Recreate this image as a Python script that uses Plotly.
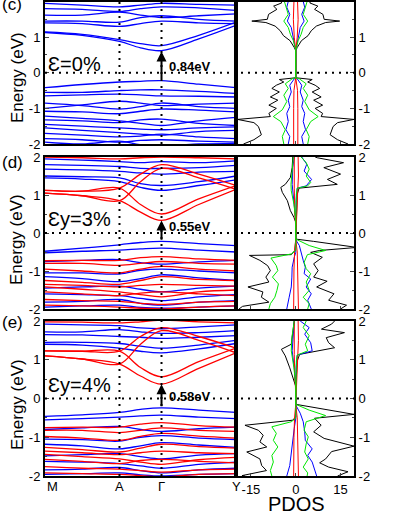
import plotly.graph_objects as go

# ---------------- data ----------------
K_POINTS = [0.0, 0.195, 0.39, 0.5, 0.61, 0.805, 1.0]
K_LABELS = ["M", "A", "Γ", "Y"]
K_LABEL_POS = [0.0, 0.39, 0.61, 1.0]

# panel (c) bands (single spin, blue)
C_BANDS = [
    [1.13, 1.05, 0.88, 0.70, 0.62, 0.95, 1.33],
    [1.15, 1.08, 0.93, 0.82, 0.76, 1.05, 1.42],
    [1.40, 1.38, 1.30, 1.38, 1.45, 1.40, 1.38],
    [1.45, 1.45, 1.42, 1.55, 1.60, 1.50, 1.45],
    [1.62, 1.62, 1.70, 1.62, 1.55, 1.60, 1.65],
    [1.80, 1.78, 1.72, 1.80, 1.85, 1.82, 1.75],
    [1.95, 1.90, 1.85, 1.90, 1.95, 1.92, 1.90],
    [-0.42, -0.33, -0.26, -0.24, -0.22, -0.32, -0.42],
    [-0.55, -0.55, -0.50, -0.48, -0.48, -0.52, -0.58],
    [-0.65, -0.62, -0.60, -0.62, -0.65, -0.66, -0.68],
    [-1.00, -0.90, -0.80, -0.85, -0.92, -0.88, -0.85],
    [-0.85, -0.92, -1.02, -0.95, -0.85, -0.95, -1.00],
    [-1.08, -1.10, -1.15, -1.08, -1.02, -1.05, -1.10],
    [-1.22, -1.28, -1.35, -1.42, -1.48, -1.35, -1.25],
    [-1.32, -1.35, -1.40, -1.32, -1.30, -1.42, -1.48],
    [-1.45, -1.50, -1.55, -1.58, -1.60, -1.55, -1.52],
    [-1.55, -1.62, -1.68, -1.72, -1.75, -1.65, -1.62],
    [-1.70, -1.75, -1.80, -1.78, -1.72, -1.80, -1.85],
    [-1.85, -1.88, -1.95, -1.90, -1.88, -1.92, -1.95],
    [-1.95, -2.00, -1.92, -2.02, -2.05, -2.00, -1.98],
]

# panel (d) bands
D_BANDS_UP = [
    [1.45, 1.42, 1.35, 1.20, 1.12, 1.25, 1.40],
    [1.50, 1.48, 1.45, 1.30, 1.25, 1.35, 1.50],
    [1.68, 1.66, 1.62, 1.58, 1.55, 1.60, 1.62],
    [1.80, 1.78, 1.75, 1.70, 1.70, 1.72, 1.78],
    [1.95, 1.92, 1.88, 1.85, 1.88, 1.85, 1.90],
    [-0.48, -0.40, -0.31, -0.25, -0.22, -0.28, -0.33],
    [-0.52, -0.48, -0.45, -0.42, -0.40, -0.45, -0.50],
    [-0.75, -0.72, -0.70, -0.78, -0.82, -0.76, -0.72],
    [-1.05, -1.05, -1.08, -0.98, -0.95, -1.00, -1.05],
    [-1.15, -1.20, -1.28, -1.20, -1.10, -1.18, -1.25],
    [-1.45, -1.42, -1.40, -1.48, -1.55, -1.45, -1.40],
    [-1.60, -1.62, -1.65, -1.72, -1.78, -1.68, -1.62],
    [-1.82, -1.80, -1.75, -1.85, -1.90, -1.82, -1.78],
    [-1.95, -1.92, -1.90, -1.96, -1.98, -1.95, -1.92],
]
D_BANDS_DN = [
    [1.05, 0.98, 0.85, 0.55, 0.33, 0.75, 1.15],
    [1.12, 1.10, 1.18, 0.75, 0.50, 0.90, 1.25],
    [1.12, 1.10, 1.18, 1.55, 1.80, 1.55, 1.25],
    [1.05, 0.98, 0.85, 1.35, 1.70, 1.45, 1.15],
    [2.00, 1.98, 1.95, 1.98, 2.00, 1.98, 1.95],
    [-0.73, -0.72, -0.72, -0.65, -0.62, -0.68, -0.72],
    [-0.80, -0.80, -0.85, -0.80, -0.75, -0.80, -0.82],
    [-0.95, -1.00, -1.05, -0.95, -0.88, -0.95, -1.00],
    [-1.25, -1.30, -1.35, -1.25, -1.15, -1.22, -1.25],
    [-1.35, -1.38, -1.42, -1.38, -1.35, -1.38, -1.40],
    [-1.42, -1.48, -1.55, -1.62, -1.68, -1.55, -1.50],
    [-1.55, -1.60, -1.65, -1.58, -1.55, -1.60, -1.65],
    [-1.75, -1.78, -1.80, -1.85, -1.88, -1.82, -1.80],
    [-1.90, -1.92, -1.95, -1.98, -2.00, -1.95, -1.92],
]

# panel (e) bands
E_BANDS_UP = [
    [1.40, 1.38, 1.30, 1.22, 1.18, 1.28, 1.42],
    [1.45, 1.45, 1.42, 1.35, 1.30, 1.38, 1.50],
    [1.65, 1.64, 1.60, 1.58, 1.55, 1.58, 1.62],
    [1.72, 1.72, 1.78, 1.72, 1.68, 1.70, 1.75],
    [1.92, 1.90, 1.88, 1.82, 1.80, 1.85, 1.90],
    [-0.46, -0.42, -0.36, -0.28, -0.24, -0.30, -0.36],
    [-0.55, -0.52, -0.48, -0.45, -0.43, -0.48, -0.52],
    [-0.80, -0.76, -0.72, -0.80, -0.85, -0.78, -0.74],
    [-1.05, -1.06, -1.10, -1.00, -0.96, -1.02, -1.06],
    [-1.18, -1.22, -1.30, -1.22, -1.14, -1.20, -1.26],
    [-1.48, -1.45, -1.42, -1.50, -1.56, -1.46, -1.42],
    [-1.62, -1.64, -1.68, -1.74, -1.80, -1.70, -1.64],
    [-1.84, -1.82, -1.78, -1.86, -1.92, -1.84, -1.80],
    [-1.96, -1.94, -1.92, -1.97, -2.00, -1.96, -1.94],
]
E_BANDS_DN = [
    [1.10, 1.02, 0.89, 0.58, 0.37, 0.78, 1.18],
    [1.23, 1.22, 1.22, 0.80, 0.56, 0.95, 1.30],
    [1.23, 1.22, 1.22, 1.60, 1.83, 1.60, 1.30],
    [1.10, 1.02, 0.89, 1.40, 1.75, 1.50, 1.18],
    [1.98, 1.97, 1.95, 1.98, 2.02, 1.98, 1.95],
    [-0.75, -0.74, -0.74, -0.66, -0.62, -0.70, -0.74],
    [-0.82, -0.82, -0.88, -0.82, -0.76, -0.82, -0.85],
    [-0.98, -1.02, -1.08, -0.98, -0.90, -0.97, -1.02],
    [-1.26, -1.32, -1.38, -1.28, -1.18, -1.24, -1.28],
    [-1.36, -1.40, -1.45, -1.40, -1.36, -1.40, -1.42],
    [-1.44, -1.50, -1.56, -1.64, -1.70, -1.58, -1.52],
    [-1.57, -1.62, -1.68, -1.60, -1.57, -1.62, -1.66],
    [-1.76, -1.80, -1.82, -1.86, -1.90, -1.84, -1.82],
    [-1.92, -1.94, -1.96, -1.99, -2.02, -1.96, -1.94],
]

# PDOS panel (c) (spin-symmetric)
C_BLACK_E = [2.0, 1.96, 1.87, 1.78, 1.64, 1.50, 1.45, 1.41, 1.31, 1.18, 1.04, 0.90, 0.71, 0.62,
             -0.14, -0.19, -0.26, -0.35, -0.44, -0.54, -0.68, -0.77, -0.91, -1.0, -1.14, -1.23,
             -1.31, -1.40, -1.51, -1.65, -1.74, -1.88, -2.0]
C_BLACK_V = [5.0, 4.7, 7.4, 6.3, 9.1, 9.5, 14.7, 10.0, 6.9, 5.2, 4.1, 1.9, 0.5, 0.0,
             0.0, 5.5, 4.0, 6.5, 8.0, 5.5, 8.5, 6.0, 9.0, 6.5, 9.0, 8.5,
             19.5, 14.0, 12.5, 12.0, 11.5, 14.0, 17.5]
C_GREEN_E = [2.0, 1.84, 1.64, 1.45, 1.27, 1.08, 0.90, 0.62, -0.14, -0.17, -0.31, -0.44, -0.63,
             -0.81, -1.04, -1.23, -1.37, -1.60, -1.79, -2.0]
C_GREEN_V = [3.8, 3.3, 2.5, 4.0, 2.5, 1.8, 0.8, 0.0, 0.0, 1.2, 3.5, 2.5, 4.0,
             3.0, 4.5, 7.5, 5.0, 3.5, 4.5, 4.0]
C_BLUE_E = [2.0, 1.84, 1.64, 1.45, 1.27, 1.08, 0.80, 0.62, -0.14, -0.17, -0.35, -0.54, -0.77,
            -0.95, -1.14, -1.37, -1.60, -1.79, -2.0]
C_BLUE_V = [2.5, 3.0, 2.0, 2.8, 1.5, 1.0, 0.5, 0.0, 0.0, 0.5, 2.0, 1.5, 2.5,
            2.0, 3.0, 2.5, 3.3, 2.0, 2.5]
C_RED_E = [2.0, 1.5, 1.0, 0.62, -0.14, -0.5, -1.0, -1.5, -2.0]
C_RED_V = [0.6, 0.8, 0.5, 0.0, 0.0, 0.6, 0.7, 0.8, 0.7]

# PDOS panel (d)
D_BLACK_UP_E = [2.0, 1.98, 1.85, 1.72, 1.55, 1.41, 1.28, 1.18, 1.02, 0.41, 0.32, -0.16, -0.22,
                -0.38, -0.46, -0.51, -0.64, -0.81, -0.99, -1.16, -1.27, -1.42, -1.60, -1.77,
                -1.90, -2.0]
D_BLACK_UP_V = [6.5, 7.2, 16.0, 9.4, 15.0, 10.6, 13.9, 1.1, 0.5, 0.2, 0.0, 0.0, 6.0,
                20.5, 8.0, 5.0, 8.9, 6.0, 7.5, 6.0, 10.5, 7.0, 12.8, 11.0, 17.0, 15.0]
D_BLACK_DN_E = [2.0, 1.72, 1.46, 1.28, 1.20, 1.07, 0.85, 0.59, 0.41, 0.28, -0.16, -0.46, -0.57,
                -0.59, -0.72, -0.86, -0.99, -1.16, -1.29, -1.42, -1.55, -1.69, -1.82, -1.93, -2.0]
D_BLACK_DN_V = [-1.0, -1.2, -1.8, -3.5, -5.0, -4.5, -2.8, -1.8, -0.6, 0.0, 0.0, -0.3, -1.5,
                -15.5, -12.0, -9.4, -8.5, -10.0, -9.0, -16.0, -11.0, -11.5, -9.0, -17.8, -19.0]
D_GREEN_UP_E = [2.0, 1.98, 1.85, 1.68, 1.50, 1.33, 1.24, 1.18, 1.02, 0.32, -0.16, -0.33, -0.46,
                -0.57, -0.77, -0.94, -1.07, -1.29, -1.51, -1.69, -1.86, -2.0]
D_GREEN_UP_V = [1.8, 2.0, 3.5, 4.5, 3.5, 5.0, 4.0, 0.5, 0.2, 0.0, 0.0, 4.5, 10.0,
                3.9, 2.8, 3.5, 5.0, 3.5, 4.5, 2.5, 4.5, 4.0]
D_GREEN_DN_E = [2.0, 1.63, 1.28, 1.11, 0.76, 0.32, -0.16, -0.46, -0.55, -0.66, -0.86, -0.99,
                -1.16, -1.34, -1.51, -1.69, -1.86, -2.0]
D_GREEN_DN_V = [-0.8, -1.2, -1.6, -1.5, -0.6, 0.0, 0.0, 0.0, -1.5, -8.3, -6.5, -6.0,
                -7.8, -5.8, -6.3, -7.0, -8.5, -9.0]
D_BLUE_UP_E = [2.0, 1.98, 1.81, 1.63, 1.41, 1.24, 1.18, 0.85, 0.32, -0.18, -0.33, -0.55, -0.72,
               -0.90, -1.07, -1.21, -1.42, -1.60, -1.77, -2.0]
D_BLUE_UP_V = [2.0, 2.2, 3.7, 2.8, 5.3, 3.5, 0.5, 0.1, 0.0, 0.0, 1.2, 1.8, 2.5,
               3.2, 2.8, 5.0, 3.5, 5.2, 4.0, 5.2]
D_BLUE_DN_E = [2.0, 1.72, 1.28, 0.85, 0.32, -0.16, -0.51, -0.64, -0.90, -1.16, -1.42, -1.69, -2.0]
D_BLUE_DN_V = [-0.5, -1.0, -1.2, -0.6, 0.0, 0.0, 0.0, -0.5, -1.2, -1.3, -1.5, -2.2, -3.0]
D_RED_E = [2.0, 1.5, 1.18, 0.5, 0.3, -0.16, -0.5, -1.0, -1.5, -2.0]
D_RED_UP_V = [0.8, 0.9, 0.7, 0.4, 0.1, 0.0, 0.5, 0.7, 0.8, 0.9]
D_RED_DN_V = [-0.5, -0.6, -0.5, -0.3, -0.1, 0.0, -0.4, -0.6, -0.6, -0.7]

# PDOS panel (e)
E_BLACK_UP_E = [2.0, 1.92, 1.79, 1.70, 1.57, 1.44, 1.31, 1.14, 0.97, 0.36, 0.27, -0.15, -0.25,
                -0.41, -0.51, -0.69, -0.86, -1.03, -1.23, -1.37, -1.56, -1.66, -1.77, -1.89, -2.0]
E_BLACK_UP_V = [13.0, 12.0, 8.6, 16.3, 10.2, 11.0, 13.0, 1.3, 0.5, 0.1, 0.0, 0.0, 7.5,
                19.5, 6.3, 8.5, 6.0, 9.5, 19.5, 12.0, 10.0, 8.0, 11.0, 17.5, 14.0]
E_BLACK_DN_E = [2.0, 1.66, 1.40, 1.27, 1.10, 0.79, 0.53, 0.31, -0.15, -0.47, -0.56, -0.69,
                -0.82, -0.95, -1.12, -1.25, -1.38, -1.56, -1.73, -1.86, -1.99, -2.0]
E_BLACK_DN_V = [-0.5, -1.2, -1.5, -4.8, -3.5, -2.0, -1.0, 0.0, 0.0, 0.0, -1.0, -17.0,
                -12.5, -10.9, -12.0, -9.7, -16.4, -12.0, -11.4, -9.8, -18.0, -17.0]
E_GREEN_UP_E = [2.0, 1.83, 1.62, 1.40, 1.23, 1.12, 0.97, 0.27, -0.15, -0.30, -0.44, -0.60,
                -0.82, -0.99, -1.17, -1.38, -1.56, -1.77, -1.92, -2.0]
E_GREEN_UP_V = [3.5, 2.5, 4.5, 3.2, 4.0, 0.5, 0.2, 0.0, 0.0, 4.5, 10.0, 3.5,
                2.8, 4.2, 3.5, 3.0, 4.2, 2.5, 4.0, 3.8]
E_GREEN_DN_E = [2.0, 1.57, 1.23, 0.79, 0.31, -0.15, -0.51, -0.60, -0.73, -0.90, -1.08, -1.25,
                -1.47, -1.64, -1.86, -2.0]
E_GREEN_DN_V = [-0.5, -1.3, -1.5, -0.6, 0.0, 0.0, 0.0, -1.5, -8.0, -6.5, -7.5, -6.0,
                -8.0, -7.5, -8.5, -8.0]
E_BLUE_UP_E = [2.0, 1.83, 1.66, 1.44, 1.23, 1.12, 0.79, 0.27, -0.17, -0.38, -0.60, -0.86,
               -1.08, -1.30, -1.47, -1.64, -1.86, -2.0]
E_BLUE_UP_V = [1.5, 4.5, 3.0, 5.0, 5.5, 0.5, 0.1, 0.0, 0.0, 1.5, 2.5, 3.0,
               3.2, 5.5, 4.0, 5.5, 6.5, 7.0]
E_BLUE_DN_E = [2.0, 1.57, 1.23, 0.79, 0.31, -0.15, -0.51, -0.77, -1.12, -1.47, -1.73, -2.0]
E_BLUE_DN_V = [-0.5, -1.0, -1.2, -0.5, 0.0, 0.0, 0.0, -0.5, -1.0, -1.5, -2.0, -3.0]
E_RED_E = [2.0, 1.5, 1.14, 0.5, 0.3, -0.15, -0.5, -1.0, -1.5, -2.0]
E_RED_UP_V = [0.8, 0.9, 0.7, 0.4, 0.1, 0.0, 0.5, 0.7, 0.8, 0.9]
E_RED_DN_V = [-0.5, -0.6, -0.5, -0.3, -0.1, 0.0, -0.4, -0.6, -0.6, -0.7]

PANEL_TAGS = ["(c)", "(d)", "(e)"]
STRAIN_LABELS = ["Ɛ=0%", "Ɛy=3%", "Ɛy=4%"]
GAP_LABELS = ["0.84eV", "0.55eV", "0.58eV"]
GAP_VBM = [-0.22, -0.22, -0.24]
GAP_CBM = [0.60, 0.33, 0.37]

# ---------------- figure ----------------
W, H = 399, 516
BLUE, RED, GREEN, BLACK = "#0000ff", "#ff0000", "#00e600", "#000000"
FONT = "Liberation Sans, Arial, sans-serif"

XB = [45 / W, 236 / W]
XP = [236 / W, 354 / W]
ROWS_PX = [(1.5, 144), (157, 309), (321, 476)]
YDOM = [[1 - b / H, 1 - t / H] for t, b in ROWS_PX]

fig = go.Figure()


def band_traces(bands, color, xa, ya):
    for b in bands:
        fig.add_trace(go.Scatter(x=K_POINTS, y=b, mode="lines", xaxis=xa, yaxis=ya,
                                 line=dict(color=color, width=1.3, shape="spline", smoothing=1.0),
                                 showlegend=False, hoverinfo="skip"))


def pdos_trace(vals, ens, color, xa, ya, width=1.0):
    fig.add_trace(go.Scatter(x=vals, y=ens, mode="lines", xaxis=xa, yaxis=ya,
                             line=dict(color=color, width=width),
                             showlegend=False, hoverinfo="skip"))


# panel c
band_traces(C_BANDS, BLUE, "x", "y")
pdos_trace(C_BLACK_V, C_BLACK_E, BLACK, "x2", "y2")
pdos_trace([-v for v in C_BLACK_V], C_BLACK_E, BLACK, "x2", "y2")
pdos_trace(C_BLUE_V, C_BLUE_E, BLUE, "x2", "y2")
pdos_trace([-v for v in C_BLUE_V], C_BLUE_E, BLUE, "x2", "y2")
pdos_trace(C_RED_V, C_RED_E, RED, "x2", "y2")
pdos_trace([-v for v in C_RED_V], C_RED_E, RED, "x2", "y2")
pdos_trace(C_GREEN_V, C_GREEN_E, GREEN, "x2", "y2")
pdos_trace([-v for v in C_GREEN_V], C_GREEN_E, GREEN, "x2", "y2")

# panel d
band_traces(D_BANDS_UP, BLUE, "x3", "y3")
band_traces(D_BANDS_DN, RED, "x3", "y3")
pdos_trace(D_BLACK_UP_V, D_BLACK_UP_E, BLACK, "x4", "y4")
pdos_trace(D_BLACK_DN_V, D_BLACK_DN_E, BLACK, "x4", "y4")
pdos_trace(D_BLUE_UP_V, D_BLUE_UP_E, BLUE, "x4", "y4")
pdos_trace(D_BLUE_DN_V, D_BLUE_DN_E, BLUE, "x4", "y4")
pdos_trace(D_RED_UP_V, D_RED_E, RED, "x4", "y4")
pdos_trace(D_RED_DN_V, D_RED_E, RED, "x4", "y4")
pdos_trace(D_GREEN_UP_V, D_GREEN_UP_E, GREEN, "x4", "y4")
pdos_trace(D_GREEN_DN_V, D_GREEN_DN_E, GREEN, "x4", "y4")

# panel e
band_traces(E_BANDS_UP, BLUE, "x5", "y5")
band_traces(E_BANDS_DN, RED, "x5", "y5")
pdos_trace(E_BLACK_UP_V, E_BLACK_UP_E, BLACK, "x6", "y6")
pdos_trace(E_BLACK_DN_V, E_BLACK_DN_E, BLACK, "x6", "y6")
pdos_trace(E_BLUE_UP_V, E_BLUE_UP_E, BLUE, "x6", "y6")
pdos_trace(E_BLUE_DN_V, E_BLUE_DN_E, BLUE, "x6", "y6")
pdos_trace(E_RED_UP_V, E_RED_E, RED, "x6", "y6")
pdos_trace(E_RED_DN_V, E_RED_E, RED, "x6", "y6")
pdos_trace(E_GREEN_UP_V, E_GREEN_UP_E, GREEN, "x6", "y6")
pdos_trace(E_GREEN_DN_V, E_GREEN_DN_E, GREEN, "x6", "y6")

axis_common = dict(showline=True, linecolor=BLACK, linewidth=2, mirror=True,
                   showgrid=False, zeroline=False, automargin=False)
tickfont = dict(family=FONT, size=13, color=BLACK)

layout = dict(width=W, height=H, margin=dict(l=0, r=0, t=0, b=0, pad=0, autoexpand=False),
              paper_bgcolor="white", plot_bgcolor="white", showlegend=False)

shapes, annotations = [], []
for i in range(3):
    bx = "x" if i == 0 else f"x{2 * i + 1}"
    by = "y" if i == 0 else f"y{2 * i + 1}"
    px_ = f"x{2 * i + 2}"
    py_ = f"y{2 * i + 2}"
    bxk = "xaxis" if i == 0 else f"xaxis{2 * i + 1}"
    byk = "yaxis" if i == 0 else f"yaxis{2 * i + 1}"
    pxk = f"xaxis{2 * i + 2}"
    pyk = f"yaxis{2 * i + 2}"
    last = i == 2
    layout[bxk] = dict(domain=XB, anchor=by, range=[0, 1], showticklabels=False,
                       ticks="", **axis_common)
    layout[byk] = dict(domain=YDOM[i], anchor=bx, range=[-2, 2], tickvals=[-2, -1, 0, 1, 2],
                       ticktext=["-2", "-1", "0", "1", "2"],
                       ticks="inside", ticklen=4, tickwidth=1, tickfont=tickfont,
                       minor=dict(ticks="inside", ticklen=2, dtick=0.5, tickwidth=1),
                       **axis_common)
    layout[pxk] = dict(domain=XP, anchor=py_, range=[-20, 19.5],
                       tickvals=[-15, 0, 15], ticktext=["-15", "0", "15"],
                       showticklabels=last, ticks="inside", ticklen=3, tickfont=tickfont,
                       **axis_common)
    layout[pyk] = dict(domain=YDOM[i], anchor=px_, range=[-2, 2], side="right",
                       tickvals=[-2, -1, 0, 1, 2], ticktext=["-2", "-1", "0", "1", "2"],
                       ticks="inside", ticklen=4, tickfont=tickfont,
                       minor=dict(ticks="inside", ticklen=2, dtick=0.5, tickwidth=1),
                       **axis_common)

    # dotted guide lines
    for kx in (K_LABEL_POS[1], K_LABEL_POS[2]):
        shapes.append(dict(type="line", xref=bx, yref=f"{by} domain", x0=kx, x1=kx, y0=0, y1=1,
                           line=dict(color=BLACK, width=2, dash="2px,5px"), layer="above"))
    shapes.append(dict(type="line", xref="paper", yref=by, x0=XB[0], x1=XP[1], y0=0, y1=0,
                       line=dict(color=BLACK, width=2, dash="2px,5px"), layer="above"))

    # arrow across gap at Gamma
    annotations.append(dict(x=K_LABEL_POS[2], y=GAP_CBM[i], ax=K_LABEL_POS[2], ay=GAP_VBM[i],
                            xref=bx, yref=by, axref=bx, ayref=by, text="", showarrow=True,
                            arrowhead=2, arrowsize=1.0, arrowwidth=2, arrowcolor=BLACK))
    gap_y = [66, 226, 396][i]
    annotations.append(dict(x=167 / W, y=1 - gap_y / H, xref="paper", yref="paper",
                            text=f"<b>{GAP_LABELS[i]}</b>", showarrow=False,
                            xanchor="left", yanchor="middle",
                            font=dict(family=FONT, size=13, color=BLACK)))
    strain_y = [64, 219, 385][i]
    annotations.append(dict(x=46 / W, y=1 - strain_y / H, xref="paper", yref="paper",
                            text=STRAIN_LABELS[i], showarrow=False, xanchor="left",
                            yanchor="middle", font=dict(family=FONT, size=20, color=BLACK)))
    tag_y = [4, 162, 322][i]
    annotations.append(dict(x=0, y=1 - tag_y / H, xref="paper", yref="paper",
                            text=PANEL_TAGS[i], showarrow=False, xanchor="left",
                            yanchor="middle", font=dict(family=FONT, size=17, color=BLACK)))
    title_y = [78, 240, 405][i]
    annotations.append(dict(x=17 / W, y=1 - title_y / H, xref="paper", yref="paper",
                            text="Energy (eV)", textangle=-90, showarrow=False,
                            xanchor="center", yanchor="middle",
                            font=dict(family=FONT, size=17, color=BLACK)))

# k-point labels
for lab, kx in zip(K_LABELS, K_LABEL_POS):
    annotations.append(dict(x=kx, y=1 - 486 / H, xref="x5", yref="paper", text=lab,
                            showarrow=False, xanchor="left" if lab == "M" else "center",
                            yanchor="middle", font=dict(family=FONT, size=13, color=BLACK)))
annotations.append(dict(x=296 / W, y=1 - 504 / H, xref="paper", yref="paper", text="PDOS",
                        showarrow=False, xanchor="center", yanchor="middle",
                        font=dict(family=FONT, size=20, color=BLACK)))

layout["shapes"] = shapes
layout["annotations"] = annotations
fig.update_layout(**layout)
fig.write_html("out.html", config={"displayModeBar": False},
               post_script="document.body.style.margin='0';document.body.style.overflow='hidden';")
